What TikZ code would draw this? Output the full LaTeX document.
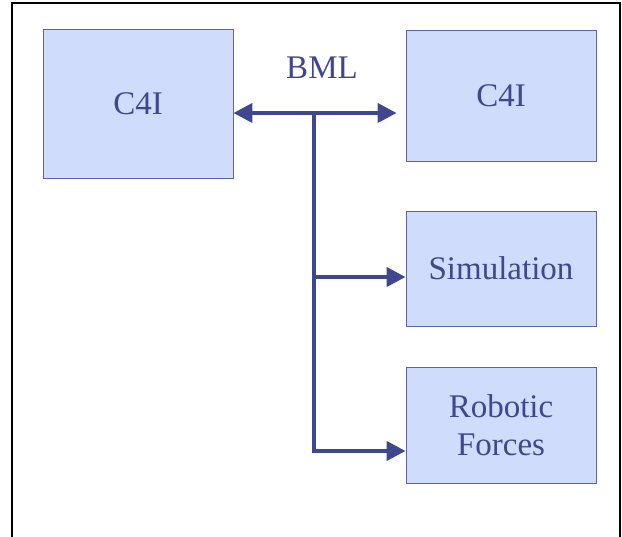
\documentclass[tikz,border=0pt]{standalone}
\usepackage{fontspec}
\setmainfont{Liberation Serif}
\usepackage{tikz}
\usepackage{xcolor}
\usetikzlibrary{arrows.meta}
\definecolor{bmlblue}{HTML}{3F478F}
\definecolor{boxfill}{HTML}{CFDCFB}
\definecolor{boxline}{HTML}{5A64A8}

\begin{document}
\begin{tikzpicture}[x=1pt,y=-1pt]
\tikzstyle{sysbox}=[draw=boxline,fill=boxfill,line width=0.8pt,inner sep=0pt,text=bmlblue,align=center,font=\fontsize{33}{38}\selectfont];
\tikzstyle{link}=[draw=bmlblue,line width=4pt];
\useasboundingbox (0,0) rectangle (622,537);
\draw[line width=2pt](12,537)--(12,3)--(620,3)--(620,537);
\node[sysbox,minimum width=190pt,minimum height=149pt](c4ia) at (138,103.5) {C4I};
\node[sysbox,minimum width=190pt,minimum height=131pt](c4ib) at (501,95.5) {C4I};
\node[sysbox,minimum width=190pt,minimum height=115pt](sim) at (501,268.5) {Simulation};
\node[sysbox,minimum width=190pt,minimum height=116pt](robot) at (501,425.5) {Robotic\\Forces};
\node[text=bmlblue,font=\fontsize{33}{38}\selectfont](bml) at (322,68) {BML};
\coordinate(hub) at (314,113);
\coordinate(simin) at (314,277);
\coordinate(robin) at (314,451);
\draw[link,{Triangle[length=19pt,width=19pt]}-{Triangle[length=19pt,width=19pt]}](hub -| c4ia.east)--([xshift=-9pt]hub -| c4ib.west);
\draw[link,-{Triangle[length=19pt,width=19pt]}](hub)--(robin)--(robin -| robot.west);
\draw[link,-{Triangle[length=19pt,width=19pt]}](simin)--(simin -| sim.west);
\end{tikzpicture}
\end{document}
